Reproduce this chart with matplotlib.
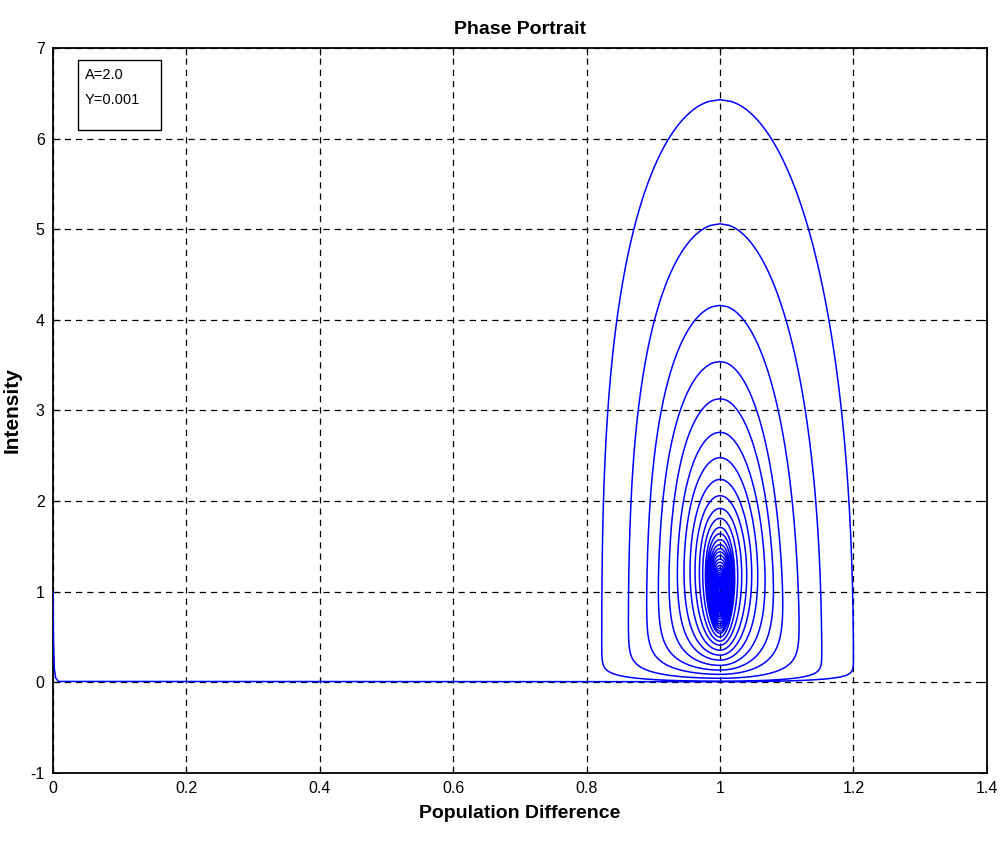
import numpy as np
import matplotlib.pyplot as plt
from matplotlib.patches import Rectangle

plt.rcParams['font.family'] = ['Liberation Sans', 'DejaVu Sans']
plt.rcParams['axes.unicode_minus'] = False

# maxima of intensity on each turn (at D = 1)
peak_I = [6.43, 5.06, 4.16, 3.54, 3.13, 2.76, 2.48, 2.24, 2.06, 1.92,
          1.81, 1.71, 1.64, 1.575, 1.52, 1.475, 1.44, 1.40, 1.36, 1.325,
          1.29, 1.26, 1.235, 1.21, 1.19, 1.17, 1.15, 1.135, 1.12, 1.105,
          1.095, 1.085, 1.075, 1.065, 1.058, 1.05]
# minima of intensity reached after each turn
trough_I = [0.012, 0.045, 0.088, 0.135, 0.187, 0.245, 0.30, 0.355, 0.41, 0.455,
            0.50, 0.54, 0.565, 0.595, 0.62, 0.645, 0.672, 0.70, 0.723, 0.745,
            0.77, 0.789, 0.808, 0.82, 0.84, 0.857, 0.872, 0.885, 0.898, 0.905,
            0.914, 0.922, 0.931, 0.939, 0.946, 0.952]
# largest population difference on each turn
right_D = [1.200, 1.1525, 1.1185, 1.094, 1.080, 1.0675, 1.0565, 1.0475, 1.040, 1.0325,
           1.0265, 1.022, 1.020, 1.0185, 1.017, 1.0158, 1.0146, 1.0135, 1.0124, 1.0113,
           1.0103, 1.0094, 1.0085, 1.0077, 1.007, 1.0063, 1.0057, 1.0051, 1.0046, 1.0041,
           1.0037, 1.0033, 1.003, 1.0027, 1.0024, 1.0021]
# smallest population difference on each turn
left_D = [0.8226, 0.8626, 0.890, 0.9075, 0.9235, 0.936, 0.946, 0.955, 0.9625, 0.969,
          0.974, 0.978, 0.980, 0.9815, 0.983, 0.9842, 0.9854, 0.9865, 0.9876, 0.9887,
          0.9897, 0.9906, 0.9915, 0.9923, 0.993, 0.9937, 0.9943, 0.9949, 0.9954, 0.9959,
          0.9963, 0.9967, 0.997, 0.9973, 0.9976, 0.9979]
# start of the trajectory, at D = 0
start_D = [0.0, 0.0008, 0.002, 0.004, 0.008]
start_I = [1.0, 0.45, 0.15, 0.05, 0.01]
bottom_I = 0.006

x_ticks = [0, 0.2, 0.4, 0.6, 0.8, 1.0, 1.2, 1.4]
x_labels = ['0', '0.2', '0.4', '0.6', '0.8', '1', '1.2', '1.4']
y_ticks = [-1, 0, 1, 2, 3, 4, 5, 6, 7]

hh = np.unique(np.concatenate([np.linspace(0, 1, 300), np.geomspace(1e-5, 1, 200)]))


def side(lo, hi, edge, q, delta):
    # one side of a turn, going from (1, lo) out to D=edge and back to (1, hi)
    eps = delta / (hi - lo)
    w = np.sqrt(np.clip(1 - hh**q, 0, None)) * np.sqrt(1 - np.exp(-hh / eps))
    w = w / w.max()
    return 1 + (edge - 1) * w, lo + (hi - lo) * hh


D = list(start_D)
I = list(start_I)
lo = bottom_I
for k in range(len(peak_I)):
    x, y = side(lo, peak_I[k], right_D[k], 2.3, 0.02 + 2.0 * lo)
    D.extend(x); I.extend(y)
    lo = trough_I[k]
    x, y = side(lo, peak_I[k], left_D[k], 3.0, 0.035 + 1.2 * lo)
    D.extend(x[::-1]); I.extend(y[::-1])

fig = plt.figure(figsize=(10.02, 8.42), dpi=100)
ax = fig.add_axes([0.0529, 0.082, 0.932, 0.861])
ax.plot(D, I, color='#0000ff', linewidth=1.1, zorder=3)

ax.set_xlim(0, 1.4)
ax.set_ylim(-1, 7)
ax.set_xticks(x_ticks)
ax.set_xticklabels(x_labels)
ax.set_yticks(y_ticks)
ax.tick_params(direction='in', length=5, width=0.8, labelsize=11.5, pad=6,
               top=True, right=True)
ax.grid(True, color='k', linestyle=(0, (5, 4)), linewidth=0.9)
ax.set_axisbelow(True)
for s in ax.spines.values():
    s.set_linewidth(1.3)

ax.set_title('Phase Portrait', fontsize=14, fontweight='bold', pad=10)
ax.set_xlabel('Population Difference', fontsize=14, fontweight='bold', labelpad=6)
ax.set_ylabel('Intensity', fontsize=15, fontweight='bold')
ax.yaxis.set_label_coords(-0.034, 0.5)

ax.add_patch(Rectangle((0.0268, 0.887), 0.0888, 0.0964, transform=ax.transAxes,
                       facecolor='white', edgecolor='k', linewidth=1.0, zorder=5))
ax.text(0.034, 0.9628, 'A=2.0', transform=ax.transAxes, fontsize=10.5,
        va='center', ha='left', zorder=6)
ax.text(0.034, 0.928, 'Y=0.001', transform=ax.transAxes, fontsize=10.5,
        va='center', ha='left', zorder=6)

fig.savefig('out.png', dpi=100)
